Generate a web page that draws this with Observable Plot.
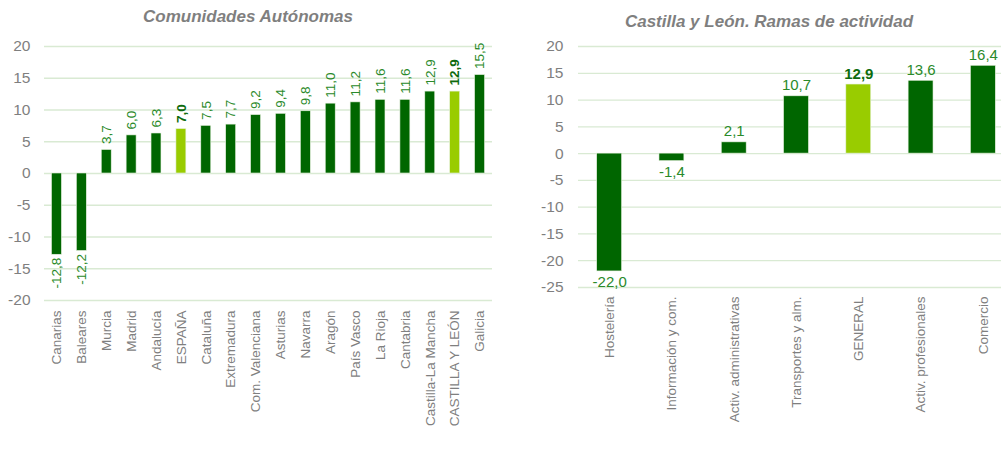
<!DOCTYPE html>
<html><head><meta charset="utf-8">
<script src="https://cdn.jsdelivr.net/npm/d3@7"></script>
<script src="https://cdn.jsdelivr.net/npm/@observablehq/plot@0.6"></script>
<style>
body{margin:0;background:#fff;font-family:"Liberation Sans",Arial,sans-serif;}
#wrap{position:relative;width:1001px;height:450px;overflow:hidden;}
.title{position:absolute;font-style:italic;font-weight:bold;font-size:17px;line-height:20px;color:#7f7f7f;white-space:nowrap;transform:translateX(-50%);}
.chart{position:absolute;top:0;}
.chart svg{max-width:none !important;}
#c1{width:500px;} #c2{width:520px;}
.chart [aria-label="y-axis tick label"]{font-size:15.5px !important;}
.chart [aria-label="x-axis tick label"]{font-size:13.5px !important;}
</style></head>
<body>
<div id="wrap">
  <div class="title" id="t1" style="left:248px;top:7px;"></div>
  <div class="title" id="t2" style="left:769px;top:12px;"></div>
  <div class="chart" id="c1" style="left:0px;"></div>
  <div class="chart" id="c2" style="left:500px;"></div>
</div>
<script>
const title1 = "Comunidades Autónomas";
const regions = ["Canarias","Baleares","Murcia","Madrid","Andalucía","ESPAÑA","Cataluña","Extremadura","Com. Valenciana","Asturias","Navarra","Aragón","País Vasco","La Rioja","Cantabria","Castilla-La Mancha","CASTILLA Y LEÓN","Galicia"];
const regionValues = [-12.8,-12.2,3.7,6.0,6.3,7.0,7.5,7.7,9.2,9.4,9.8,11.0,11.2,11.6,11.6,12.9,12.9,15.5];
const regionHighlight = ["ESPAÑA","CASTILLA Y LEÓN"];
const regionTicks = [-20,-15,-10,-5,0,5,10,15,20];

const title2 = "Castilla y León. Ramas de actividad";
const sectors = ["Hostelería","Información y com.","Activ. administrativas","Transportes y alm.","GENERAL","Activ. profesionales","Comercio"];
const sectorValues = [-22.0,-1.4,2.1,10.7,12.9,13.6,16.4];
const sectorHighlight = ["GENERAL"];
const sectorTicks = [-25,-20,-15,-10,-5,0,5,10,15,20];

const DARK = "#006600", LIGHT = "#99cc00", GRID = "#d9ead3", AXIS = "#7f7f7f", LBL = "#2a8a2a", LBLB = "#0d6b0d";
const fmt = v => v.toFixed(1).replace(".", ",");
const tfmt = d => String(d);
const FONT = "Liberation Sans, Arial, sans-serif";

document.getElementById("t1").textContent = title1;
document.getElementById("t2").textContent = title2;

const d1 = regions.map((r,i) => ({cat:r, v:regionValues[i], hi:regionHighlight.includes(r)}));
const d2 = sectors.map((r,i) => ({cat:r, v:sectorValues[i], hi:sectorHighlight.includes(r)}));

const c1 = Plot.plot({
  width: 500, height: 450,
  marginLeft: 44, marginRight: 8, marginTop: 46, marginBottom: 150,
  style: {fontFamily: FONT, background: "transparent"},
  x: {domain: regions, paddingInner: 0.6, paddingOuter: 0.3, align: 0.5, round: false},
  y: {domain: [-20, 20]},
  marks: [
    Plot.gridY(regionTicks, {stroke: GRID, strokeOpacity: 1, strokeWidth: 1.3}),
    Plot.axisY(regionTicks, {tickSize: 0, tickPadding: 14, fontSize: 15.5, fill: AXIS, label: null, tickFormat: tfmt}),
    Plot.axisX({tickRotate: -90, tickSize: 0, tickPadding: 10, fontSize: 13.5, fill: AXIS, label: null}),
    Plot.barY(d1, {x: "cat", y: "v", fill: d => d.hi ? LIGHT : DARK, stroke: "#e8f2e0", strokeWidth: 0.6}),
    Plot.text(d1.filter(d => d.v >= 0 && !d.hi), {x: "cat", y: "v", text: d => fmt(d.v), rotate: -90, textAnchor: "start", lineAnchor: "middle", dy: -6, fontSize: 13.5, fill: LBL}),
    Plot.text(d1.filter(d => d.v >= 0 && d.hi), {x: "cat", y: "v", text: d => fmt(d.v), rotate: -90, textAnchor: "start", lineAnchor: "middle", dy: -6, fontSize: 13.5, fontWeight: "bold", fill: LBLB}),
    Plot.text(d1.filter(d => d.v < 0), {x: "cat", y: "v", text: d => fmt(d.v), rotate: -90, textAnchor: "end", lineAnchor: "middle", dy: 3, fontSize: 13.5, fill: LBL})
  ]
});
document.getElementById("c1").appendChild(c1);

const c2 = Plot.plot({
  width: 520, height: 450,
  marginLeft: 78, marginRight: 6, marginTop: 46, marginBottom: 163,
  style: {fontFamily: FONT, background: "transparent"},
  x: {domain: sectors, paddingInner: 0.6, paddingOuter: 0.3, align: 0.5, round: false},
  y: {domain: [-25, 20]},
  marks: [
    Plot.gridY(sectorTicks, {stroke: GRID, strokeOpacity: 1, strokeWidth: 1.3}),
    Plot.axisY(sectorTicks, {tickSize: 0, tickPadding: 15, fontSize: 15.5, fill: AXIS, label: null, tickFormat: tfmt}),
    Plot.axisX({tickRotate: -90, tickSize: 0, tickPadding: 9, fontSize: 13.5, fill: AXIS, label: null}),
    Plot.barY(d2, {x: "cat", y: "v", fill: d => d.hi ? LIGHT : DARK, stroke: "#e8f2e0", strokeWidth: 0.6}),
    Plot.text(d2.filter(d => d.v >= 0 && !d.hi), {x: "cat", y: "v", text: d => fmt(d.v), lineAnchor: "bottom", dy: -6, fontSize: 15, fill: LBL}),
    Plot.text(d2.filter(d => d.v >= 0 && d.hi), {x: "cat", y: "v", text: d => fmt(d.v), lineAnchor: "bottom", dy: -6, fontSize: 15, fontWeight: "bold", fill: LBLB}),
    Plot.text(d2.filter(d => d.v < 0), {x: "cat", y: "v", text: d => fmt(d.v), lineAnchor: "top", dy: 5, fontSize: 15, fill: LBL})
  ]
});
document.getElementById("c2").appendChild(c2);
</script>
</body></html>
